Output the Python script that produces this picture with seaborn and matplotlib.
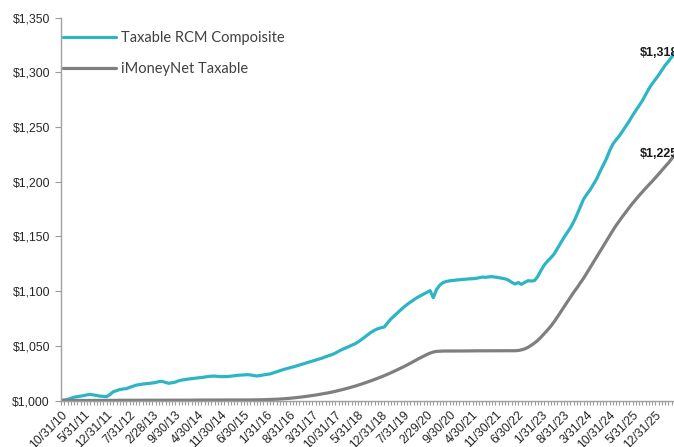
import numpy as np
import pandas as pd
import matplotlib
matplotlib.use("Agg")
import matplotlib.pyplot as plt
import seaborn as sns
from matplotlib.ticker import FuncFormatter, MultipleLocator, FixedLocator

# ---------------- data (growth of $1,000, month-end values) ----------------
series_names = ["Taxable RCM Compoisite", "iMoneyNet Taxable"]

rcm_values = [
    1000.0, 1000.5, 1001.0, 1002.0, 1003.0, 1003.5, 1004.0, 1004.5, 1005.2, 1005.6,
    1005.0, 1004.5, 1004.0, 1003.8, 1003.5, 1005.5, 1008.0, 1009.0, 1010.0, 1010.5,
    1010.8, 1012.0, 1013.0, 1014.0, 1014.5, 1015.0, 1015.3, 1015.6, 1016.0, 1016.5,
    1017.3, 1017.5, 1016.5, 1015.7, 1016.2, 1016.8, 1018.0, 1018.7, 1019.2, 1019.6,
    1020.0, 1020.3, 1020.7, 1021.0, 1021.5, 1021.9, 1022.2, 1022.3, 1022.0, 1021.8,
    1021.8, 1021.9, 1022.2, 1022.6, 1023.0, 1023.2, 1023.4, 1023.6, 1023.4, 1022.8,
    1022.4, 1022.8, 1023.4, 1023.8, 1024.3, 1025.2, 1026.2, 1027.2, 1028.2, 1029.0,
    1029.8, 1030.6, 1031.5, 1032.4, 1033.2, 1034.1, 1035.0, 1036.0, 1037.0, 1037.8,
    1038.8, 1040.0, 1041.0, 1042.0, 1043.3, 1045.0, 1046.5, 1047.8, 1049.2, 1050.5,
    1051.8, 1053.6, 1055.7, 1058.0, 1060.4, 1062.5, 1064.2, 1065.6, 1066.5, 1067.2,
    1071.0, 1074.5, 1077.2, 1080.0, 1082.8, 1085.4, 1087.8, 1090.0, 1092.0, 1094.0,
    1095.6, 1097.2, 1098.8, 1100.4, 1094.0, 1101.5, 1105.5, 1107.8, 1108.8, 1109.4,
    1109.8, 1110.1, 1110.4, 1110.7, 1111.0, 1111.2, 1111.3, 1111.6, 1112.2, 1112.8,
    1112.6, 1113.0, 1113.2, 1112.8, 1112.3, 1111.8, 1111.2, 1110.0, 1108.0, 1106.5,
    1107.8, 1106.2, 1108.0, 1109.5, 1109.2, 1109.6, 1113.5, 1119.0, 1124.0, 1127.5,
    1130.5, 1134.0, 1139.0, 1144.0, 1149.0, 1153.5, 1158.0, 1163.5, 1170.0, 1177.0,
    1184.0, 1188.5, 1192.5, 1197.5, 1202.5, 1209.0, 1215.0, 1221.0, 1228.5, 1234.5,
    1238.5, 1242.0, 1246.5, 1251.0, 1255.5, 1260.5, 1265.0, 1269.5, 1274.0, 1279.5,
    1285.0, 1289.5, 1293.5, 1297.5, 1302.0, 1306.5, 1310.0, 1314.0, 1318.0,
]

imoney_values = [
    1000.0, 1000.0, 1000.0, 1000.0, 1000.0, 1000.1, 1000.1, 1000.1, 1000.1, 1000.1,
    1000.1, 1000.1, 1000.1, 1000.1, 1000.1, 1000.1, 1000.1, 1000.2, 1000.2, 1000.2,
    1000.2, 1000.2, 1000.2, 1000.2, 1000.2, 1000.2, 1000.2, 1000.2, 1000.2, 1000.3,
    1000.3, 1000.3, 1000.3, 1000.3, 1000.3, 1000.3, 1000.3, 1000.3, 1000.3, 1000.3,
    1000.3, 1000.4, 1000.4, 1000.4, 1000.4, 1000.4, 1000.4, 1000.4, 1000.4, 1000.4,
    1000.4, 1000.4, 1000.5, 1000.5, 1000.5, 1000.5, 1000.5, 1000.5, 1000.5, 1000.6,
    1000.6, 1000.6, 1000.7, 1000.8, 1000.9, 1001.0, 1001.2, 1001.3, 1001.5, 1001.7,
    1002.0, 1002.3, 1002.6, 1002.9, 1003.3, 1003.7, 1004.1, 1004.5, 1005.0, 1005.5,
    1006.0, 1006.5, 1007.1, 1007.7, 1008.4, 1009.1, 1009.8, 1010.6, 1011.4, 1012.2,
    1013.1, 1014.0, 1015.0, 1016.0, 1017.0, 1018.1, 1019.2, 1020.3, 1021.5, 1022.7,
    1024.0, 1025.3, 1026.7, 1028.1, 1029.5, 1031.0, 1032.5, 1034.1, 1035.8, 1037.4,
    1039.0, 1040.5, 1042.0, 1043.3, 1044.3, 1044.9, 1045.1, 1045.2, 1045.2, 1045.2,
    1045.3, 1045.3, 1045.3, 1045.3, 1045.3, 1045.3, 1045.4, 1045.4, 1045.4, 1045.4,
    1045.4, 1045.4, 1045.4, 1045.4, 1045.5, 1045.5, 1045.5, 1045.5, 1045.5, 1045.5,
    1045.7, 1046.3, 1047.2, 1048.6, 1050.5, 1052.6, 1055.0, 1058.0, 1061.2, 1064.5,
    1068.0, 1072.0, 1076.4, 1081.0, 1085.5, 1090.0, 1094.5, 1099.0, 1103.0, 1107.5,
    1111.7, 1116.5, 1121.4, 1126.3, 1131.2, 1136.0, 1141.0, 1146.0, 1150.8, 1155.6,
    1160.2, 1164.4, 1168.5, 1172.5, 1176.4, 1180.2, 1183.8, 1187.3, 1190.7, 1194.0,
    1197.1, 1200.3, 1203.6, 1207.0, 1210.5, 1213.9, 1217.2, 1221.0, 1225.0,
]

tick_labels = [
    "10/31/10", "5/31/11", "12/31/11", "7/31/12", "2/28/13", "9/30/13", "4/30/14",
    "11/30/14", "6/30/15", "1/31/16", "8/31/16", "3/31/17", "10/31/17", "5/31/18",
    "12/31/18", "7/31/19", "2/29/20", "9/30/20", "4/30/21", "11/30/21", "6/30/22",
    "1/31/23", "8/31/23", "3/31/24", "10/31/24", "5/31/25", "12/31/25",
]
tick_step = 7  # months between labelled ticks

colors = ["#2db5c6", "#7f7f7f"]

# ---------------- build long-form table ----------------
n = len(rcm_values)
month_idx = np.arange(n)
df = pd.DataFrame({
    "month": np.concatenate([month_idx, month_idx]),
    "value": np.concatenate([rcm_values, imoney_values]),
    "series": [series_names[0]] * n + [series_names[1]] * n,
})

# ---------------- figure ----------------
sns.set_style("white")
plt.rcParams["font.family"] = ["Liberation Sans", "DejaVu Sans"]

W, H = 674, 447
fig = plt.figure(figsize=(W / 100, H / 100), dpi=100)
left_px, right_px, top_px, bot_px = 61, 675, 17.6, 400.5
ax = fig.add_axes([left_px / W, 1 - bot_px / H, (right_px - left_px) / W, (bot_px - top_px) / H])

sns.lineplot(data=df, x="month", y="value", hue="series", palette=colors,
             linewidth=2.3, ax=ax, legend=True)

ax.set_xlim(0, n - 1)
ax.set_ylim(1000, 1350)
ax.set_xlabel("")
ax.set_ylabel("")

# y axis
ax.yaxis.set_major_locator(MultipleLocator(50))
ax.yaxis.set_major_formatter(FuncFormatter(lambda v, p: f"${v:,.0f}"))
ax.tick_params(axis="y", which="major", direction="out", length=4, width=0.8,
               color="#9a9a9a", labelsize=8.8, labelcolor="#262626", pad=4, left=True)

# x axis
major_pos = [i * tick_step for i in range(len(tick_labels))]
ax.xaxis.set_major_locator(FixedLocator(major_pos))
ax.xaxis.set_minor_locator(MultipleLocator(1))
ax.set_xticklabels(tick_labels, rotation=45, ha="right", rotation_mode="anchor")
ax.tick_params(axis="x", which="both", direction="out", length=3, width=0.8,
               color="#9a9a9a", bottom=True)
ax.tick_params(axis="x", which="major", labelsize=8.8, labelcolor="#262626", pad=3)

for side in ["top", "right"]:
    ax.spines[side].set_visible(False)
for side in ["left", "bottom"]:
    ax.spines[side].set_color("#a0a0a0")
    ax.spines[side].set_linewidth(1.0)
ax.grid(False)

# legend
leg = ax.legend(loc="upper left", bbox_to_anchor=(63 / W, 1 - 31 / H),
                bbox_transform=fig.transFigure, frameon=False,
                borderaxespad=0, borderpad=0,
                handlelength=3.6, handletextpad=0.4, labelspacing=1.15,
                prop={"family": "Lato", "size": 10.5})
for t in leg.get_texts():
    t.set_color("#404040")

# end labels
for vals, col in [(rcm_values, colors[0]), (imoney_values, colors[1])]:
    ax.annotate(f"${vals[-1]:,.0f}", xy=(n - 1, vals[-1]), xytext=(2, 0),
                textcoords="offset points", ha="right", va="center",
                fontsize=9, fontweight="bold", color="#1a1a1a", annotation_clip=False)

fig.savefig("out.png", dpi=100)
